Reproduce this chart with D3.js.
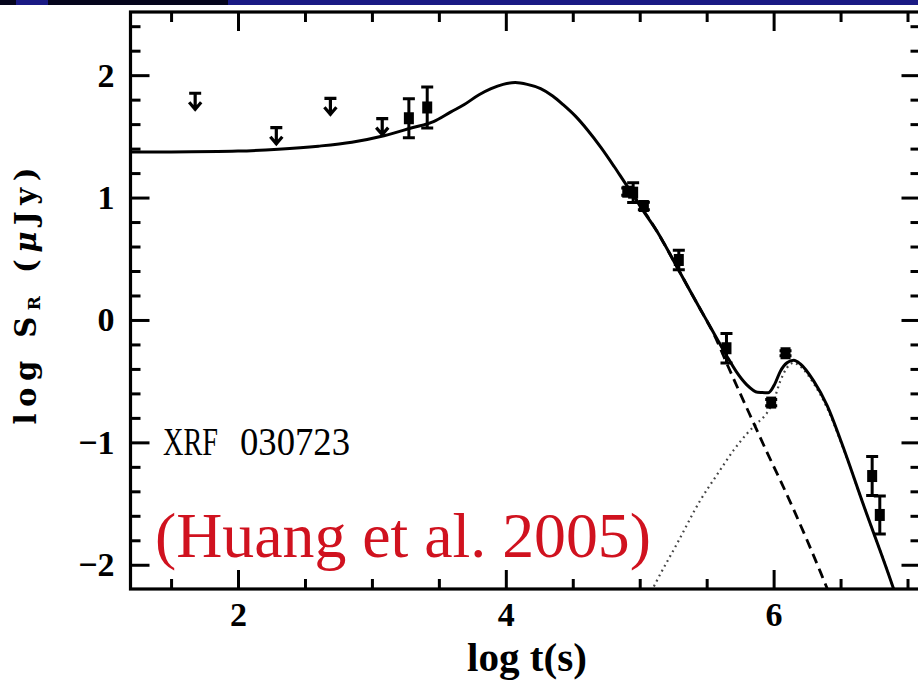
<!DOCTYPE html>
<html><head><meta charset="utf-8">
<script src="https://cdn.jsdelivr.net/npm/d3@7"></script>
<style>body{margin:0;background:#fff;} svg{display:block}</style>
</head><body>
<svg id="c" width="918" height="685"></svg>
<script>
// ---------- data ----------
const xMajorTicks = [2, 4, 6];
const xMinorTicks = [1.5, 2.5, 3, 3.5, 4.5, 5, 5.5, 6.5, 7];
const yMajorTicks = [-2, -1, 0, 1, 2];
const yMinorTicks = [-1.8, -1.6, -1.4, -1.2, -0.8, -0.6, -0.4, -0.2, 0.2, 0.4, 0.6, 0.8, 1.2, 1.4, 1.6, 1.8, 2.2, 2.4];

// upper limits (arrows)
const limitX = [1.68, 2.286, 2.69, 3.077];
const limitY = [1.852, 1.571, 1.811, 1.645];

// detections with error bars
const pointX   = [3.276, 3.413, 4.907, 4.951, 5.031, 5.292, 5.648, 5.982, 6.089, 6.736, 6.793];
const pointY   = [1.648, 1.736, 1.048, 1.040, 0.931, 0.490, -0.231, -0.675, -0.272, -1.275, -1.593];
const pointErr = [0.160, 0.167, 0.030, 0.080, 0.030, 0.080, 0.120, 0.025, 0.020, 0.160, 0.155];

// total model (solid)
const totalX = [1.197, 1.5, 2.0, 2.3, 2.6, 2.85, 3.09, 3.3, 3.46, 3.59, 3.69, 3.80, 3.89, 3.98, 4.07, 4.16, 4.26, 4.35, 4.43, 4.52, 4.61, 4.71, 4.81, 4.89, 4.96, 5.006, 5.13, 5.255, 5.38, 5.467, 5.56, 5.648, 5.72, 5.80, 5.88, 5.96, 6.01, 6.05, 6.10, 6.15, 6.20, 6.30, 6.40, 6.50, 6.674, 6.90, 7.0];
const totalY = [1.372, 1.373, 1.380, 1.395, 1.420, 1.452, 1.505, 1.570, 1.620, 1.700, 1.760, 1.840, 1.890, 1.925, 1.940, 1.925, 1.890, 1.830, 1.757, 1.665, 1.552, 1.410, 1.252, 1.120, 1.007, 0.925, 0.722, 0.480, 0.230, 0.060, -0.120, -0.290, -0.420, -0.530, -0.590, -0.594, -0.520, -0.420, -0.350, -0.330, -0.360, -0.500, -0.700, -0.980, -1.520, -2.210, -2.550];

// forward-shock component (dashed)
const fsX = [4.96, 5.13, 5.255, 5.38, 5.467, 5.56, 5.648, 5.75, 5.85, 5.95, 6.05, 6.15, 6.25, 6.35, 6.45];
const fsY = [1.007, 0.722, 0.480, 0.230, 0.060, -0.130, -0.350, -0.600, -0.840, -1.080, -1.310, -1.550, -1.800, -2.060, -2.330];

// reverse-shock component (dotted)
const rsX = [5.05, 5.118, 5.28, 5.454, 5.58, 5.703, 5.80, 5.88, 5.95, 6.00, 6.05, 6.10, 6.15, 6.20, 6.30, 6.40, 6.50, 6.674, 6.90, 7.0];
const rsY = [-2.30, -2.151, -1.825, -1.471, -1.260, -1.062, -0.930, -0.840, -0.760, -0.660, -0.500, -0.390, -0.350, -0.380, -0.520, -0.720, -0.990, -1.520, -2.210, -2.550];

// ---------- layout ----------
const L = 130.5, R = 920.5, T = 12, B = 589;
const svg = d3.select("#c");
const x = d3.scaleLinear().domain([1.197, 7.097]).range([L, R]);
const y = d3.scaleLinear().domain([-2.198, 2.516]).range([B, T]);

// top banner
const band = [[0, 16, "#05051c"], [16, 48, "#1a1a84"], [48, 228, "#05051c"], [228, 918, "#1a1a84"]];
svg.selectAll("rect.band").data(band).enter().append("rect")
  .attr("x", d => d[0]).attr("y", 0).attr("width", d => d[1] - d[0]).attr("height", 5).attr("fill", d => d[2]);

svg.append("clipPath").attr("id", "clip").append("rect")
  .attr("x", L).attr("y", T).attr("width", R - L).attr("height", B - T);

const plot = svg.append("g").attr("clip-path", "url(#clip)");
const line = d3.line().x(d => x(d[0])).y(d => y(d[1])).curve(d3.curveMonotoneX);

plot.append("path").datum(rsX.map((v, i) => [v, rsY[i]])).attr("d", line)
  .attr("fill", "none").attr("stroke", "#444").attr("stroke-width", 2.2).attr("stroke-dasharray", "1.8,3.8");
plot.append("path").datum(fsX.map((v, i) => [v, fsY[i]])).attr("d", line)
  .attr("fill", "none").attr("stroke", "#000").attr("stroke-width", 2.8).attr("stroke-dasharray", "10,6");
plot.append("path").datum(totalX.map((v, i) => [v, totalY[i]])).attr("d", line)
  .attr("fill", "none").attr("stroke", "#000").attr("stroke-width", 3);

// upper limits
const lim = svg.append("g").attr("stroke", "#000").attr("stroke-width", 3.2).attr("fill", "none");
limitX.forEach((lx, i) => {
  const px = x(lx), py = y(limitY[i]);
  lim.append("path").attr("d",
    `M${px - 6},${py} H${px + 6} M${px},${py} V${py + 17} M${px - 6},${py + 9} L${px},${py + 16} L${px + 6},${py + 9}`);
});

// detections
const pts = svg.append("g");
pointX.forEach((px0, i) => {
  const px = x(px0), py = y(pointY[i]);
  const yt = y(pointY[i] + pointErr[i]), yb = y(pointY[i] - pointErr[i]);
  pts.append("path").attr("d", `M${px},${yt} V${yb} M${px - 6},${yt} H${px + 6} M${px - 6},${yb} H${px + 6}`)
    .attr("stroke", "#000").attr("stroke-width", 3).attr("fill", "none");
  pts.append("rect").attr("x", px - 5).attr("y", py - 6).attr("width", 10).attr("height", 12).attr("fill", "#000");
});

// axes
const fmt = d => d < 0 ? "\u2212" + Math.abs(d) : String(d);
function styleAxis(g) {
  g.select(".domain").remove();
  g.selectAll(".tick line").attr("stroke", "#000").attr("stroke-width", 3);
  g.attr("font-family", "'Liberation Serif', serif").attr("font-size", 34).attr("font-weight", "bold");
  g.selectAll(".tick text").attr("fill", "#000");
}
svg.append("g").attr("transform", `translate(0,${B})`)
  .call(d3.axisBottom(x).tickValues(xMajorTicks).tickSize(-19).tickPadding(13).tickFormat(fmt)).call(styleAxis);
svg.append("g").attr("transform", `translate(0,${B})`)
  .call(d3.axisBottom(x).tickValues(xMinorTicks).tickSize(-10).tickFormat("")).call(styleAxis);
svg.append("g").attr("transform", `translate(0,${T})`)
  .call(d3.axisTop(x).tickValues(xMajorTicks).tickSize(-19).tickFormat("")).call(styleAxis);
svg.append("g").attr("transform", `translate(0,${T})`)
  .call(d3.axisTop(x).tickValues(xMinorTicks).tickSize(-10).tickFormat("")).call(styleAxis);
svg.append("g").attr("transform", `translate(${L},0)`)
  .call(d3.axisLeft(y).tickValues(yMajorTicks).tickSize(-19).tickPadding(16).tickFormat(fmt)).call(styleAxis);
svg.append("g").attr("transform", `translate(${L},0)`)
  .call(d3.axisLeft(y).tickValues(yMinorTicks).tickSize(-10).tickFormat("")).call(styleAxis);
svg.append("g").attr("transform", `translate(${R},0)`)
  .call(d3.axisRight(y).tickValues(yMajorTicks).tickSize(-19).tickFormat("")).call(styleAxis);
svg.append("g").attr("transform", `translate(${R},0)`)
  .call(d3.axisRight(y).tickValues(yMinorTicks).tickSize(-10).tickFormat("")).call(styleAxis);

// frame
svg.append("rect").attr("x", L).attr("y", T).attr("width", R - L).attr("height", B - T)
  .attr("fill", "none").attr("stroke", "#000").attr("stroke-width", 3.2);

// axis titles
svg.append("text").attr("x", 527).attr("y", 671).attr("text-anchor", "middle")
  .attr("font-family", "'Liberation Serif', serif").attr("font-weight", "bold").attr("font-size", 40)
  .attr("textLength", 120).attr("lengthAdjust", "spacingAndGlyphs").text("log t(s)");

const yl = svg.append("text").attr("transform", "translate(36,296) rotate(-90)").attr("text-anchor", "middle")
  .attr("font-family", "'DejaVu Serif', serif").attr("font-weight", "bold").attr("font-size", 29)
  .attr("textLength", 257).attr("lengthAdjust", "spacing");
yl.append("tspan").text("log  S");
yl.append("tspan").attr("font-size", 17).attr("dy", 4).text("R");
yl.append("tspan").attr("dy", -4).text("  (");
yl.append("tspan").attr("font-style", "italic").text("\u03bc");
yl.append("tspan").text("Jy)");

// annotations
svg.append("text").attr("x", 163).attr("y", 455).attr("font-family", "'Liberation Serif', serif").attr("font-size", 40)
  .attr("textLength", 55).attr("lengthAdjust", "spacingAndGlyphs").text("XRF");
svg.append("text").attr("x", 240).attr("y", 455).attr("font-family", "'Liberation Serif', serif").attr("font-size", 40)
  .attr("textLength", 110).attr("lengthAdjust", "spacingAndGlyphs").text("030723");
svg.append("text").attr("x", 155).attr("y", 557)
  .attr("font-family", "'Liberation Serif', 'Times New Roman', serif").attr("font-size", 64).attr("fill", "#d0121f")
  .attr("textLength", 496).attr("lengthAdjust", "spacingAndGlyphs").text("(Huang et al. 2005)");
</script>
</body></html>
